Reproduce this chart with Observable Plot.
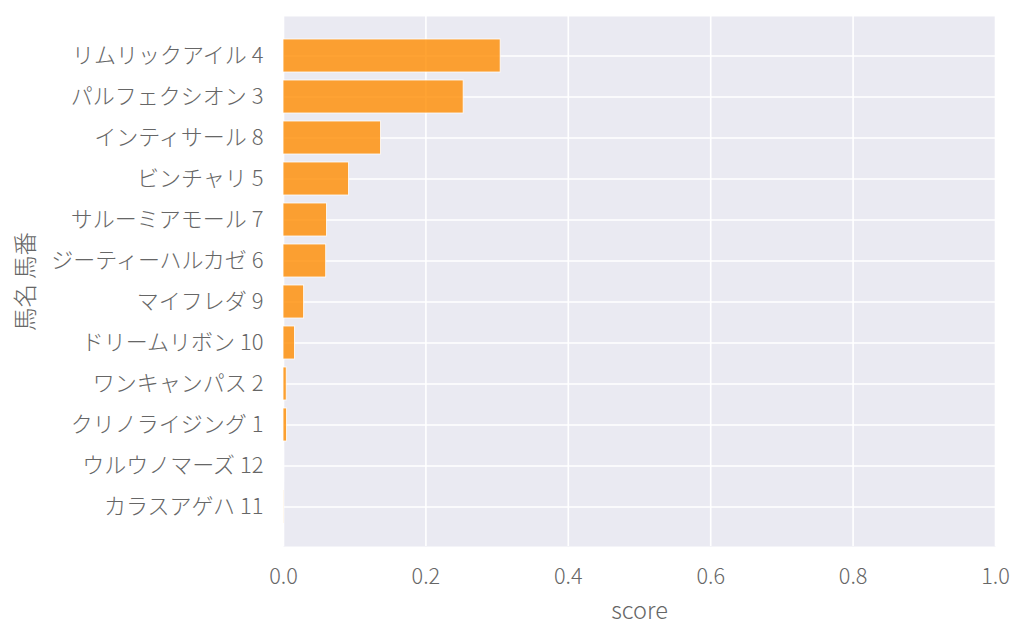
<!DOCTYPE html>
<html>
<head>
<meta charset="utf-8">
<script src="https://cdn.jsdelivr.net/npm/d3@7"></script>
<script src="https://cdn.jsdelivr.net/npm/@observablehq/plot@0.6"></script>
<style>
  html, body { margin: 0; padding: 0; background: #ffffff; }
  #chart { width: 1024px; height: 638px; }
  #chart text { font-weight: 300; }
</style>
</head>
<body>
<div id="chart"></div>
<script>
const horses = [
  "リムリックアイル 4",
  "パルフェクシオン 3",
  "インティサール 8",
  "ビンチャリ 5",
  "サルーミアモール 7",
  "ジーティーハルカゼ 6",
  "マイフレダ 9",
  "ドリームリボン 10",
  "ワンキャンパス 2",
  "クリノライジング 1",
  "ウルウノマーズ 12",
  "カラスアゲハ 11"
];
const scores = [0.305, 0.253, 0.137, 0.092, 0.061, 0.060, 0.029, 0.016, 0.0045, 0.005, 0.001, 0.0006];
const xTicks = [0, 0.2, 0.4, 0.6, 0.8, 1.0];

const data = horses.map((h, i) => ({horse: h, score: scores[i]}));

const FONT = "'Noto Sans CJK JP Light', 'Noto Sans CJK JP DemiLight', 'Noto Sans CJK JP', 'Noto Sans', sans-serif";

const chart = Plot.plot({
  width: 1024,
  height: 638,
  marginLeft: 283,
  marginRight: 29,
  marginTop: 16,
  marginBottom: 92,
  style: {fontFamily: FONT, fontSize: "22px", color: "#666666", background: "#ffffff"},
  x: {domain: [0, 1]},
  y: {domain: horses, paddingInner: 0.2, paddingOuter: 0.56},
  marks: [
    Plot.frame({fill: "#EAEAF2", stroke: null}),
    Plot.gridX(xTicks, {stroke: "#ffffff", strokeOpacity: 1, strokeWidth: 1.6}),
    Plot.gridY({stroke: "#ffffff", strokeOpacity: 1, strokeWidth: 1.6}),
    Plot.barX(data, {x: "score", y: "horse", fill: "#ff8c00", fillOpacity: 0.8, stroke: "#ffffff", strokeWidth: 0.8}),
    Plot.axisX(xTicks, {tickSize: 0, tickPadding: 22, tickFormat: d3.format(".1f"), fontSize: 21.7, label: null}),
    Plot.axisX({tickSize: 0, ticks: [], label: "score", labelAnchor: "center", labelOffset: 72, labelArrow: "none", fontSize: 23.5}),
    Plot.axisY({tickSize: 0, tickPadding: 20, fontSize: 22, label: null}),
    Plot.axisY({tickSize: 0, ticks: [], label: "馬名 馬番", labelAnchor: "center", labelOffset: 266, labelArrow: "none", fontSize: 23.5})
  ]
});
document.getElementById("chart").appendChild(chart);
</script>
</body>
</html>
